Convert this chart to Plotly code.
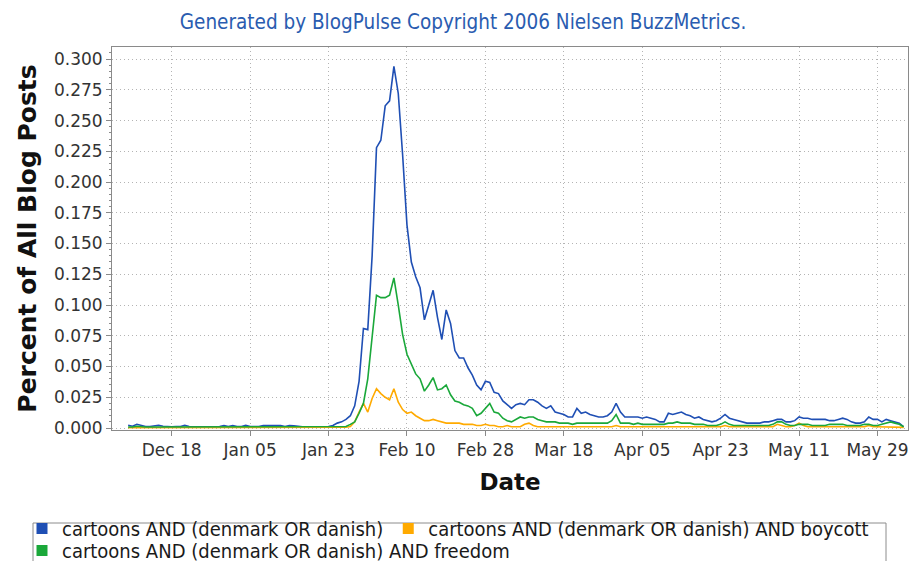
import pandas as pd
import plotly.graph_objects as go


BLUE = "#1f4fb4"
ORANGE = "#ffaa00"
GREEN = "#1aa83a"
GRID = "#b4b4b4"
AXIS = "#8a8a8a"
TEXT = "#333333"
TITLE_BLUE = "#2a5cb0"

TITLE = "Generated by BlogPulse Copyright 2006 Nielsen BuzzMetrics."
SERIES_NAMES = [
    "cartoons AND (denmark OR danish)",
    "cartoons AND (denmark OR danish) AND boycott",
    "cartoons AND (denmark OR danish) AND freedom",
]

# daily values, 2005-12-08 .. 2006-06-04 (percent of all blog posts)
START_DATE = "2005-12-08"
END_DATE = "2006-06-04"

BLUE_VALUES = [
    # Dec 8-31
    0.0022, 0.0015, 0.0030, 0.0018, 0.0012, 0.0012, 0.0020, 0.0022, 0.0014, 0.0010,
    0.0010, 0.0012, 0.0012, 0.0022, 0.0012, 0.0010, 0.0010, 0.0010, 0.0010, 0.0010,
    0.0012, 0.0012, 0.0020, 0.0013,
    # Jan
    0.0020, 0.0012, 0.0013, 0.0022, 0.0012, 0.0012, 0.0013, 0.0020, 0.0021, 0.0022,
    0.0020, 0.0021, 0.0013, 0.0020, 0.0019, 0.0012, 0.0010, 0.0010, 0.0010, 0.0010,
    0.0010, 0.0010, 0.0012, 0.0020, 0.0040, 0.0050, 0.0070, 0.0100, 0.0180, 0.0380,
    0.0810,
    # Feb
    0.080, 0.140, 0.228, 0.234, 0.262, 0.266, 0.294, 0.272, 0.222, 0.165,
    0.135, 0.123, 0.114, 0.088, 0.100, 0.112, 0.090, 0.072, 0.096, 0.085,
    0.063, 0.057, 0.057, 0.049, 0.043, 0.035, 0.031, 0.038,
    # Mar
    0.037, 0.029, 0.028, 0.022, 0.019, 0.016, 0.019, 0.020, 0.019, 0.023,
    0.023, 0.021, 0.018, 0.016, 0.018, 0.013, 0.012, 0.011, 0.009, 0.009,
    0.016, 0.012, 0.013, 0.011, 0.010, 0.009, 0.009, 0.010, 0.013, 0.020,
    0.013,
    # Apr
    0.009, 0.009, 0.009, 0.009, 0.008, 0.009, 0.008, 0.007, 0.005, 0.005,
    0.012, 0.011, 0.012, 0.013, 0.011, 0.010, 0.008, 0.009, 0.007, 0.006,
    0.005, 0.006, 0.008, 0.011, 0.008, 0.007, 0.006, 0.005, 0.004, 0.004,
    # May
    0.004, 0.004, 0.005, 0.005, 0.006, 0.007, 0.007, 0.005, 0.005, 0.006,
    0.009, 0.008, 0.008, 0.007, 0.007, 0.007, 0.007, 0.006, 0.006, 0.007,
    0.008, 0.007, 0.005, 0.004, 0.004, 0.005, 0.009, 0.007, 0.007, 0.005,
    0.007,
    # Jun 1-4
    0.006, 0.005, 0.004, 0.001,
]

ORANGE_VALUES = [
    # Dec 8-31
    0.0002, 0.0002, 0.0003, 0.0002, 0.0002, 0.0002, 0.0002, 0.0002, 0.0002, 0.0002,
    0.0002, 0.0002, 0.0002, 0.0002, 0.0002, 0.0002, 0.0002, 0.0002, 0.0002, 0.0002,
    0.0002, 0.0002, 0.0002, 0.0002,
    # Jan
    0.0002, 0.0002, 0.0002, 0.0002, 0.0002, 0.0002, 0.0002, 0.0002, 0.0002, 0.0002,
    0.0002, 0.0002, 0.0002, 0.0002, 0.0002, 0.0002, 0.0002, 0.0002, 0.0002, 0.0002,
    0.0002, 0.0002, 0.0002, 0.0002, 0.0003, 0.0004, 0.0006, 0.0012, 0.0050, 0.0130,
    0.0200,
    # Feb
    0.013, 0.024, 0.032, 0.028, 0.025, 0.023, 0.032, 0.021, 0.015, 0.012,
    0.013, 0.010, 0.008, 0.006, 0.006, 0.007, 0.006, 0.005, 0.004, 0.004,
    0.004, 0.004, 0.003, 0.003, 0.003, 0.002, 0.002, 0.003,
    # Mar
    0.002, 0.002, 0.001, 0.001, 0.002, 0.001, 0.001, 0.001, 0.003, 0.004,
    0.002, 0.001, 0.001, 0.001, 0.001, 0.001, 0.001, 0.001, 0.001, 0.001,
    0.001, 0.001, 0.001, 0.001, 0.001, 0.001, 0.001, 0.001, 0.001, 0.002,
    0.001,
    # Apr
    0.001, 0.001, 0.001, 0.001, 0.001, 0.001, 0.001, 0.001, 0.001, 0.001,
    0.001, 0.001, 0.001, 0.001, 0.001, 0.001, 0.001, 0.001, 0.001, 0.001,
    0.001, 0.001, 0.001, 0.002, 0.001, 0.001, 0.001, 0.001, 0.001, 0.001,
    # May
    0.001, 0.001, 0.001, 0.001, 0.001, 0.003, 0.002, 0.001, 0.001, 0.002,
    0.004, 0.002, 0.001, 0.001, 0.001, 0.001, 0.001, 0.001, 0.001, 0.001,
    0.001, 0.001, 0.001, 0.001, 0.001, 0.001, 0.002, 0.001, 0.001, 0.001,
    0.001,
    # Jun 1-4
    0.001, 0.001, 0.001, 0.0005,
]

GREEN_VALUES = [
    # Dec 8-31
    0.0008, 0.0008, 0.0015, 0.0010, 0.0008, 0.0008, 0.0008, 0.0008, 0.0008, 0.0008,
    0.0008, 0.0008, 0.0008, 0.0008, 0.0008, 0.0008, 0.0008, 0.0008, 0.0008, 0.0008,
    0.0008, 0.0008, 0.0008, 0.0008,
    # Jan
    0.0008, 0.0008, 0.0008, 0.0008, 0.0008, 0.0008, 0.0008, 0.0008, 0.0008, 0.0008,
    0.0008, 0.0008, 0.0008, 0.0008, 0.0010, 0.0012, 0.0010, 0.0008, 0.0008, 0.0008,
    0.0008, 0.0008, 0.0009, 0.0010, 0.0010, 0.0011, 0.0012, 0.0030, 0.0050, 0.0120,
    0.0200,
    # Feb
    0.040, 0.075, 0.108, 0.106, 0.106, 0.108, 0.122, 0.100, 0.076, 0.060,
    0.052, 0.044, 0.040, 0.030, 0.035, 0.041, 0.031, 0.032, 0.035, 0.027,
    0.022, 0.021, 0.019, 0.018, 0.016, 0.010, 0.012, 0.016,
    # Mar
    0.020, 0.013, 0.012, 0.008, 0.006, 0.005, 0.007, 0.009, 0.008, 0.009,
    0.009, 0.007, 0.006, 0.005, 0.005, 0.005, 0.004, 0.004, 0.004, 0.003,
    0.004, 0.004, 0.004, 0.004, 0.004, 0.004, 0.004, 0.004, 0.006, 0.011,
    0.004,
    # Apr
    0.004, 0.004, 0.003, 0.004, 0.003, 0.003, 0.003, 0.003, 0.003, 0.003,
    0.004, 0.004, 0.005, 0.004, 0.004, 0.004, 0.003, 0.003, 0.003, 0.002,
    0.002, 0.002, 0.003, 0.005, 0.003, 0.002, 0.002, 0.002, 0.002, 0.002,
    # May
    0.002, 0.002, 0.002, 0.002, 0.003, 0.005, 0.005, 0.003, 0.002, 0.002,
    0.003, 0.003, 0.003, 0.002, 0.002, 0.002, 0.002, 0.003, 0.003, 0.003,
    0.003, 0.002, 0.002, 0.002, 0.002, 0.003, 0.003, 0.002, 0.002, 0.003,
    0.004,
    # Jun 1-4
    0.005, 0.004, 0.003, 0.001,
]

TICK_DATES = [
    "2005-12-18", "2006-01-05", "2006-01-23", "2006-02-10", "2006-02-28",
    "2006-03-18", "2006-04-05", "2006-04-23", "2006-05-11", "2006-05-29",
]
TICK_TEXT = [
    "Dec 18", "Jan 05", "Jan 23", "Feb 10", "Feb 28",
    "Mar 18", "Apr 05", "Apr 23", "May 11", "May 29",
]
Y_TICKS = [0.0, 0.025, 0.05, 0.075, 0.1, 0.125, 0.15, 0.175, 0.2, 0.225, 0.25, 0.275, 0.3]

dates = pd.date_range(START_DATE, END_DATE, freq="D")
assert len(dates) == len(BLUE_VALUES) == len(ORANGE_VALUES) == len(GREEN_VALUES)

# the page body adds an 8px margin all round; keep the figure small enough
# that the page never scrolls (all figure pixel coords are page coords - 8)
W, H = 901, 553
L, R, T, B = 104, 1, 39, 131
PLOT_W, PLOT_H = W - L - R, H - T - B


def px_to_paper_x(px):
    return (px - L) / PLOT_W


def px_to_paper_y(py):
    return (H - B - py) / PLOT_H


fig = go.Figure()

# lines, drawn in series order (green ends up on top)
for values, color in [(BLUE_VALUES, BLUE), (ORANGE_VALUES, ORANGE), (GREEN_VALUES, GREEN)]:
    fig.add_trace(go.Scatter(
        x=dates,
        y=values,
        mode="lines",
        line=dict(color=color, width=1.6),
        showlegend=False,
        hoverinfo="skip",
    ))

# square swatches for the legend: two on the first row, one on the second
for name, color, legend_id in zip(SERIES_NAMES, [BLUE, ORANGE, GREEN], ["legend", "legend", "legend2"]):
    fig.add_trace(go.Scatter(
        x=[None],
        y=[None],
        mode="markers",
        marker=dict(symbol="square", size=11, color=color),
        name=name,
        legend=legend_id,
    ))

# legend frame (runs off the bottom like the original)
fig.add_shape(
    type="rect",
    xref="paper",
    yref="paper",
    x0=px_to_paper_x(25),
    x1=px_to_paper_x(878),
    y0=px_to_paper_y(515),
    y1=px_to_paper_y(600),
    line=dict(color="#8c8c8c", width=1),
    fillcolor="rgba(0,0,0,0)",
)

legend_style = dict(
    orientation="h",
    xref="paper",
    yref="paper",
    x=px_to_paper_x(14),
    xanchor="left",
    yanchor="top",
    bgcolor="rgba(0,0,0,0)",
    borderwidth=0,
    font=dict(family="DejaVu Sans Condensed", size=20, color="#1a1a1a"),
    itemwidth=30,
    traceorder="normal",
)

fig.update_layout(
    width=W,
    height=H,
    template=None,
    paper_bgcolor="white",
    plot_bgcolor="white",
    margin=dict(l=L, r=R, t=T, b=B, autoexpand=False),
    font=dict(family="DejaVu Sans", size=16, color=TEXT),
    title=dict(
        text=TITLE,
        xref="container",
        yref="container",
        x=455 / W,
        y=1 - 14 / H,
        xanchor="center",
        yanchor="middle",
        font=dict(family="DejaVu Sans Condensed", size=20.5, color=TITLE_BLUE),
    ),
    legend=dict(legend_style, y=px_to_paper_y(501)),
    legend2=dict(legend_style, y=px_to_paper_y(523)),
)

fig.update_xaxes(
    type="date",
    range=["2005-12-04 07:00", "2006-06-05 00:00"],
    tickvals=TICK_DATES,
    ticktext=TICK_TEXT,
    ticks="outside",
    ticklen=5,
    tickcolor=AXIS,
    tickfont=dict(size=17, color=TEXT),
    ticklabeloverflow="allow",
    showgrid=True,
    gridcolor=GRID,
    griddash="1px,3px",
    gridwidth=1,
    showline=True,
    linecolor=AXIS,
    mirror=True,
    zeroline=False,
    title=dict(text="<b>Date</b>", font=dict(size=23, color="#111111"), standoff=14),
)

fig.update_yaxes(
    range=[-0.0016, 0.3098],
    tickvals=Y_TICKS,
    tickformat=".3f",
    ticks="outside",
    ticklen=5,
    tickcolor=AXIS,
    tickfont=dict(size=17, color=TEXT),
    minor=dict(ticks="outside", ticklen=2, dtick=0.005, tickcolor=AXIS, showgrid=False),
    showgrid=True,
    gridcolor=GRID,
    griddash="1px,3px",
    gridwidth=1,
    showline=True,
    linecolor=AXIS,
    mirror=True,
    zeroline=False,
    title=dict(text="<b>Percent of All Blog Posts</b>", font=dict(size=25, color="#111111"), standoff=10),
)

fig.write_html("out.html")
